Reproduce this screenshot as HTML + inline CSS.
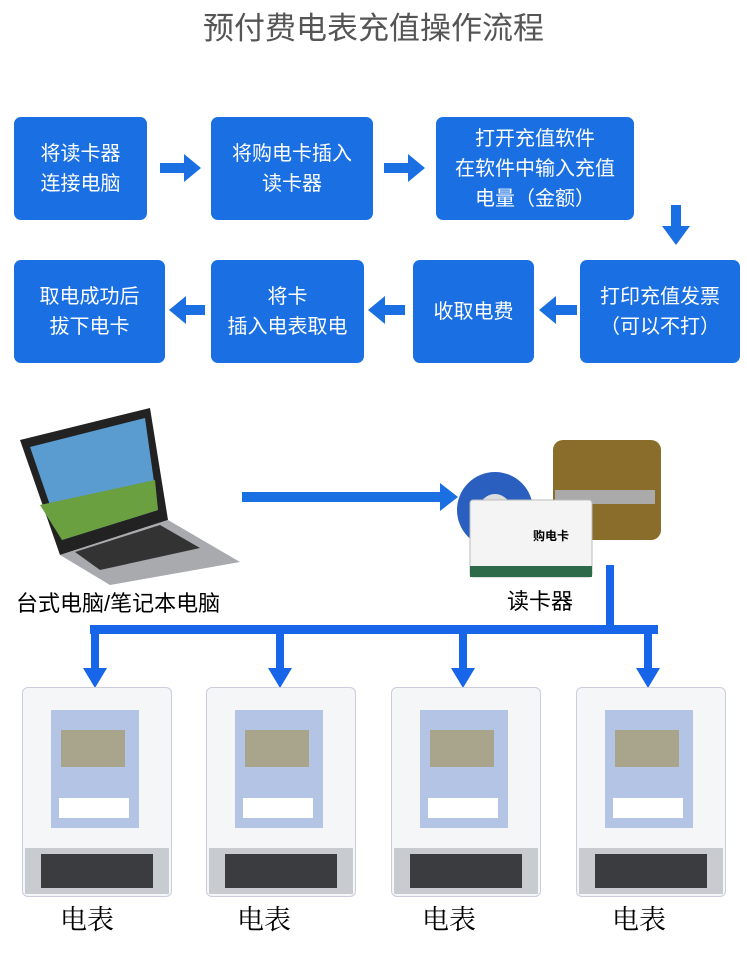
<!DOCTYPE html>
<html><head><meta charset="utf-8"><style>
body{margin:0;width:747px;height:962px;background:#fff;position:relative;overflow:hidden;font-family:"Liberation Sans","Noto Sans CJK SC",sans-serif}
.a{position:absolute}
.b{position:absolute;background:#1a6fe3;color:#fff;border-radius:7px;display:flex;align-items:center;justify-content:center;text-align:center;font-size:20px;line-height:30px}
.meter{position:absolute;width:148px;height:208px;background:#f5f6f8;border:1px solid #ccd;border-radius:6px}
.meter .p{position:absolute;left:28px;top:22px;width:88px;height:118px;background:#b3c4e4}
.meter .s{position:absolute;left:38px;top:42px;width:64px;height:37px;background:#a9a48c}
.meter .bc{position:absolute;left:36px;top:110px;width:70px;height:20px;background:#fff}
.meter .bot{position:absolute;left:2px;top:160px;width:144px;height:46px;background:#c8cbd0}
.meter .bi{position:absolute;left:18px;top:166px;width:112px;height:34px;background:#3a3c40}
.lab{position:absolute;font-family:"Liberation Serif","Noto Serif CJK SC",serif;font-size:27px}
</style></head><body>
<div class="a" style="left:0;width:747px;top:3px;text-align:center;font-size:31px;color:#555">预付费电表充值操作流程</div>

<div class="b" style="left:14px;top:117px;width:133px;height:103px">将读卡器<br>连接电脑</div>
<div class="b" style="left:211px;top:117px;width:162px;height:103px">将购电卡插入<br>读卡器</div>
<div class="b" style="left:436px;top:117px;width:198px;height:103px">打开充值软件<br>在软件中输入充值<br>电量（金额）</div>
<div class="b" style="left:14px;top:260px;width:151px;height:103px">取电成功后<br>拔下电卡</div>
<div class="b" style="left:211px;top:260px;width:153px;height:103px">将卡<br>插入电表取电</div>
<div class="b" style="left:413px;top:260px;width:121px;height:103px">收取电费</div>
<div class="b" style="left:580px;top:260px;width:160px;height:103px">打印充值发票<br>（可以不打）</div>

<svg class="a" style="left:0;top:0" width="747" height="962">
<g fill="#1a6fe3">
<polygon points="160,163 184,163 184,154 201,168 184,182 184,173 160,173"/>
<polygon points="384,163 408,163 408,154 425,168 408,182 408,173 384,173"/>
<polygon points="671,205 681,205 681,226 690,226 676,245 662,226 671,226"/>
<polygon points="577,305 556,305 556,296 539,310 556,324 556,315 577,315"/>
<polygon points="405,305 385,305 385,296 368,310 385,324 385,315 405,315"/>
<polygon points="205,305 186,305 186,296 169,310 186,324 186,315 205,315"/>
<polygon points="242,492 440,492 440,483 458,497 440,511 440,502 242,502"/>
</g>
<g fill="#1765e8">
<rect x="606" y="565" width="8" height="66"/>
<rect x="90" y="625" width="568" height="9"/>
<rect x="91" y="625" width="8" height="45"/><polygon points="83,668 107,668 95,688"/>
<rect x="276" y="625" width="8" height="45"/><polygon points="268,668 292,668 280,688"/>
<rect x="459" y="625" width="8" height="45"/><polygon points="451,668 475,668 463,688"/>
<rect x="644" y="625" width="8" height="45"/><polygon points="636,668 660,668 648,688"/>
</g>
<polygon points="20,440 150,408 168,520 60,555" fill="#222"/>
<polygon points="30,447 145,418 158,510 62,540" fill="#5a9bd0"/>
<polygon points="40,505 155,480 158,510 62,540" fill="#6aa040"/>
<polygon points="60,555 168,520 240,562 110,585" fill="#a8aaae"/>
<polygon points="75,552 160,525 200,548 100,570" fill="#333"/>
<circle cx="495" cy="510" r="38" fill="#2a5fc0"/>
<circle cx="495" cy="510" r="16" fill="#ddd"/>
<rect x="553" y="440" width="108" height="100" rx="10" fill="#8a6d2a"/>
<rect x="555" y="490" width="100" height="14" fill="#aaa"/>
<rect x="470" y="500" width="122" height="77" rx="3" fill="#f4f4f4" stroke="#bbb"/>
<rect x="470" y="566" width="122" height="11" fill="#2d6a4a"/>
<text x="533" y="540" font-size="12" font-family="Liberation Sans,Noto Sans CJK SC,sans-serif" font-weight="bold">购电卡</text>
</svg>

<div class="a" style="left:16px;top:586px;font-size:22px">台式电脑/笔记本电脑</div>
<div class="a" style="left:507px;top:584px;font-size:22px">读卡器</div>

<div class="meter" style="left:22px;top:687px"><div class="p"></div><div class="s"></div><div class="bc"></div><div class="bot"></div><div class="bi"></div></div>
<div class="meter" style="left:206px;top:687px"><div class="p"></div><div class="s"></div><div class="bc"></div><div class="bot"></div><div class="bi"></div></div>
<div class="meter" style="left:391px;top:687px"><div class="p"></div><div class="s"></div><div class="bc"></div><div class="bot"></div><div class="bi"></div></div>
<div class="meter" style="left:576px;top:687px"><div class="p"></div><div class="s"></div><div class="bc"></div><div class="bot"></div><div class="bi"></div></div>

<div class="lab" style="left:60px;top:898px">电表</div>
<div class="lab" style="left:237px;top:898px">电表</div>
<div class="lab" style="left:422px;top:898px">电表</div>
<div class="lab" style="left:612px;top:898px">电表</div>
</body></html>
